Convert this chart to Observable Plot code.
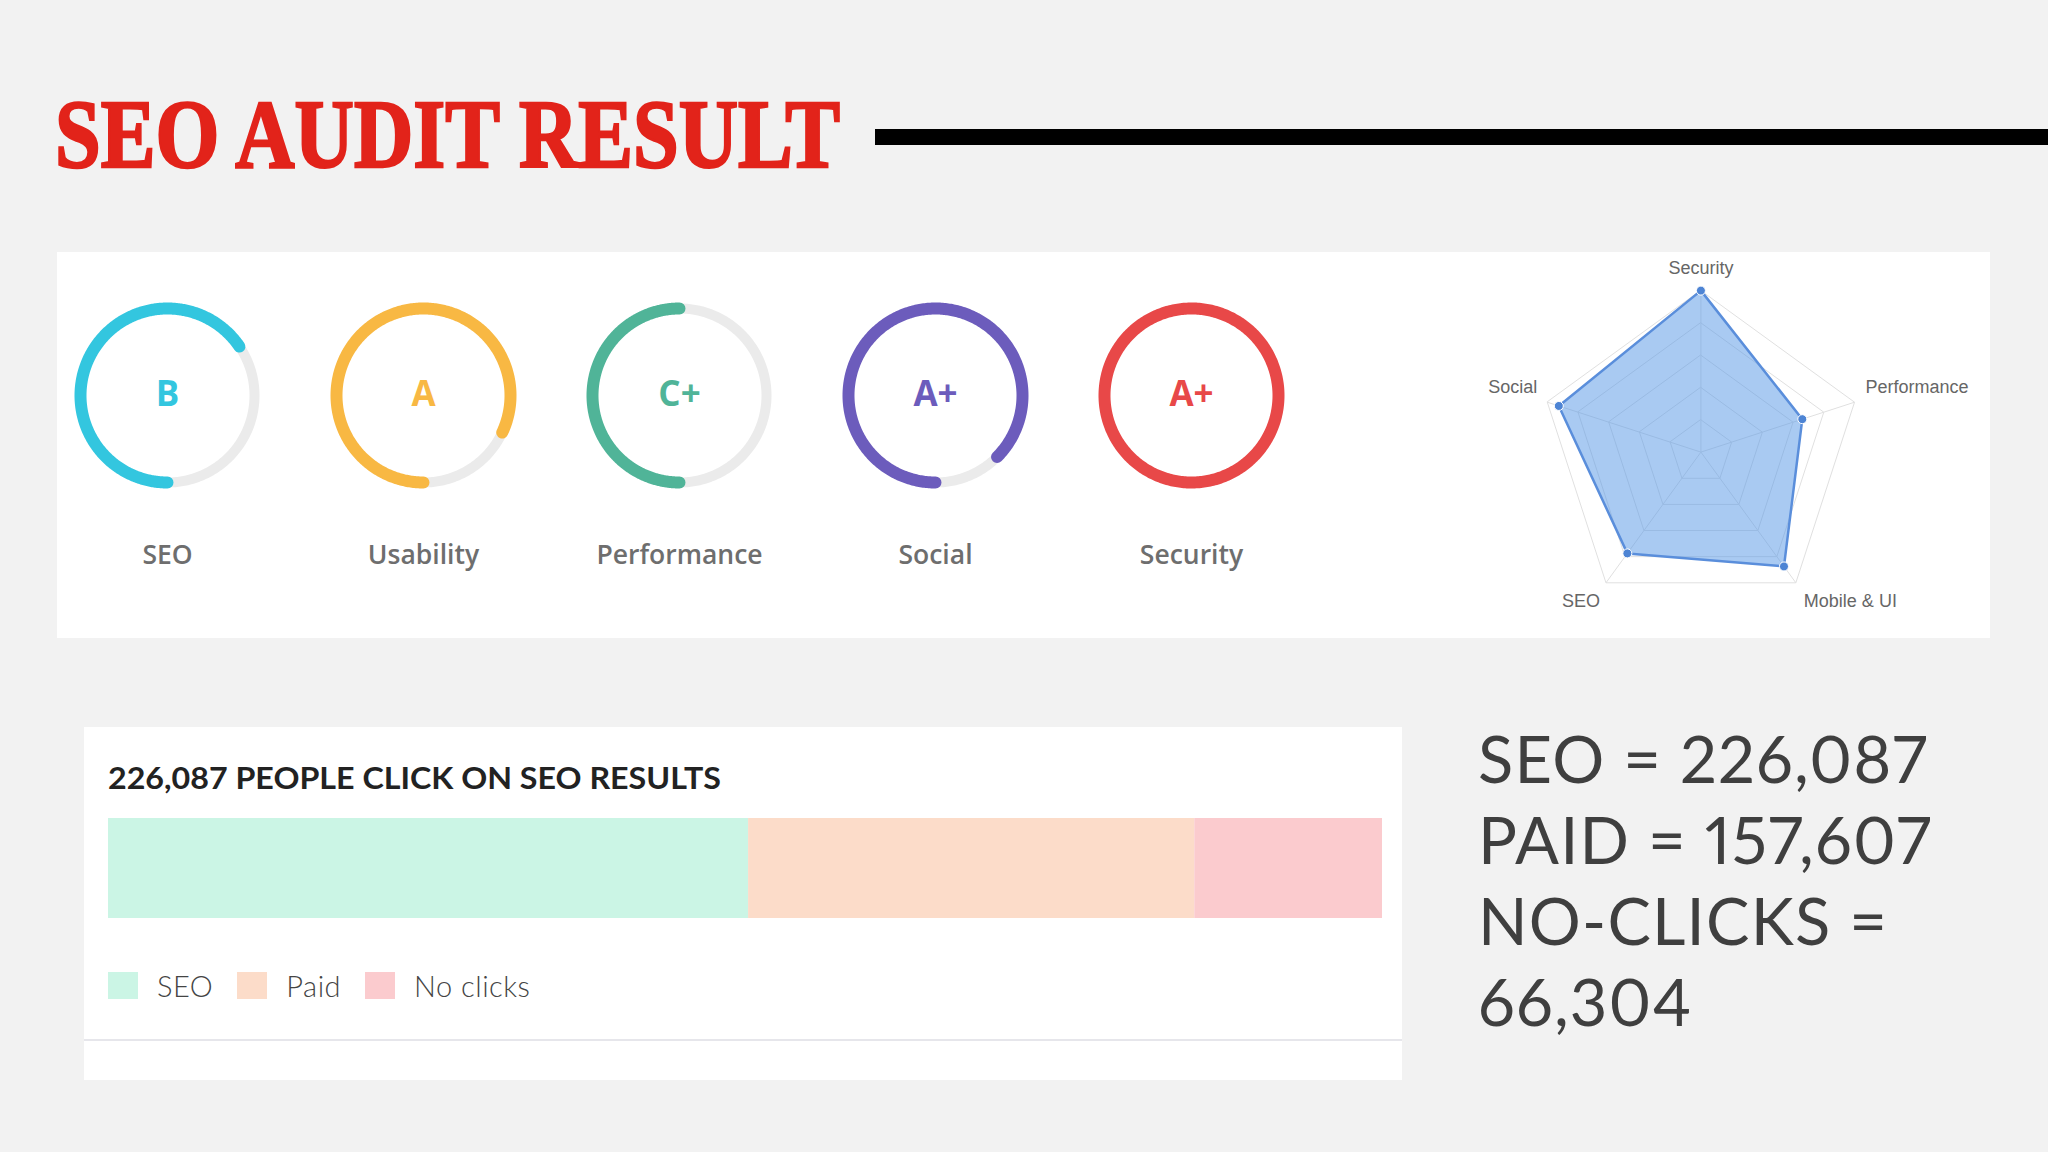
<!DOCTYPE html>
<html><head><meta charset="utf-8">
<script src="https://cdn.jsdelivr.net/npm/d3@7"></script>
<script src="https://cdn.jsdelivr.net/npm/@observablehq/plot@0.6"></script>
<style>
html,body{margin:0;padding:0;}
body{width:2048px;height:1152px;background:#f2f2f2;position:relative;overflow:hidden;font-family:Lato,sans-serif;}
.abs{position:absolute;}
#title{left:55px;top:85px;font-family:"Liberation Serif",serif;font-weight:700;font-size:98px;line-height:98px;color:#e2231a;white-space:nowrap;transform-origin:0 0;-webkit-text-stroke:2.5px #e2231a;}
#rule{left:875px;top:129px;width:1173px;height:16px;background:#000;}
.panel{background:#fff;}
#p1{left:57px;top:252px;width:1933px;height:386px;}
#p2{left:84px;top:727px;width:1318px;height:353px;}
#divider{left:84px;top:1039px;width:1318px;height:2px;background:#e6e6eb;}
#gauges{left:39px;top:252px;}
#radar{left:1400px;top:252px;}
#barTitle{left:108px;top:762px;font-family:Lato,sans-serif;font-weight:700;font-size:30.5px;line-height:30.5px;color:#222;white-space:nowrap;transform-origin:0 0;}
#bar{left:108px;top:818px;}
#legend{left:108px;top:968px;}
#stats{left:1478px;top:718px;width:560px;font-family:Lato,sans-serif;font-size:65px;line-height:81px;letter-spacing:1.2px;font-variant-numeric:proportional-nums;color:#3f3f3f;}
.lg-swatches{font-family:Lato,sans-serif !important;font-size:29px !important;letter-spacing:0.5px;font-weight:300;color:#444;margin:0 !important;}
.lg-swatch{margin-right:24px !important;}
.lg-swatch > svg{margin-right:19px !important;}
</style></head><body>
<div id="title" class="abs">SEO AUDIT RESULT</div>
<div id="rule" class="abs"></div>
<div id="p1" class="abs panel"></div>
<div id="p2" class="abs panel"></div>
<div id="divider" class="abs"></div>
<div id="gauges" class="abs"></div>
<div id="radar" class="abs"></div>
<div id="barTitle" class="abs"></div>
<div id="bar" class="abs"></div>
<div id="legend" class="abs"></div>
<div id="stats" class="abs"></div>
<script>
// ---- Gauge scores ----
const gaugeNames = ["SEO", "Usability", "Performance", "Social", "Security"];
const gaugeGrades = ["B", "A", "C+", "A+", "A+"];
const gaugeScores = [0.655, 0.82, 0.5, 0.875, 1.0];
const gaugeColors = ["#33c6df", "#f8b843", "#50b498", "#6c5cbc", "#e84848"];

// ---- Radar ----
const radarAxes = ["Security", "Performance", "Mobile & UI", "SEO", "Social"];
const radarValues = [1.0, 0.66, 0.875, 0.775, 0.925];
const radarLevels = [0.2, 0.4, 0.6, 0.8, 1.0];

// ---- Clicks ----
const clickCategories = ["SEO", "Paid", "No clicks"];
const clickLabels = ["SEO", "PAID", "NO-CLICKS"];
const clickValues = [226087, 157607, 66304];
const clickColors = ["#cbf5e5", "#fcdcc9", "#fbcbce"];

const fmt = d3.format(",");
const baseStyle = {background: "transparent", maxWidth: "none", overflow: "visible"};

// Title fitting
function fitWidth(el, target) {
  const w = el.getBoundingClientRect().width;
  el.style.transform = `scaleX(${target / w})`;
}
fitWidth(document.getElementById("title"), 785);

// ---- Gauges ----
const R = 87, STEPS = 360;
const arcPts = (name, frac) => d3.range(STEPS + 1).map(k => {
  const t = 2 * Math.PI * frac * k / STEPS;
  return {name, x: -R * Math.sin(t), y: -R * Math.cos(t)};
});
const track = gaugeNames.flatMap(n => arcPts(n, 1));
const arcs = gaugeNames.flatMap((n, i) => arcPts(n, gaugeScores[i]));
const gaugeRows = gaugeNames.map((n, i) => ({name: n, grade: gaugeGrades[i]}));

const gauges = Plot.plot({
  width: 1280, height: 386, margin: 0,
  style: baseStyle,
  fx: {domain: gaugeNames, padding: 0, axis: null},
  x: {domain: [-128, 128], axis: null},
  y: {domain: [-243, 143], axis: null},
  color: {domain: gaugeNames, range: gaugeColors},
  marks: [
    Plot.line(track, {fx: "name", x: "x", y: "y", stroke: "#ebebeb", strokeWidth: 10}),
    Plot.line(arcs, {fx: "name", x: "x", y: "y", stroke: "name", strokeWidth: 12, strokeLinecap: "round"}),
    Plot.text(gaugeRows, {fx: "name", x: () => 0, y: () => 1, text: "grade", fill: "name", fontSize: 35, fontWeight: 700, fontFamily: "Open Sans"}),
    Plot.text(gaugeRows, {fx: "name", x: () => 0, y: () => -160, text: "name", fill: "#6e6e6e", fontSize: 26.5, fontWeight: 600, fontFamily: "Open Sans", letterSpacing: "0.6px"})
  ]
});
document.getElementById("gauges").append(gauges);

// ---- Radar ----
const ang = i => i * 2 * Math.PI / radarAxes.length;
const polar = (i, v) => ({x: v * Math.sin(ang(i)), y: v * Math.cos(ang(i))});
const rings = radarLevels.flatMap(l => radarAxes.map((a, i) => ({level: l, ...polar(i, l)})));
const spokes = radarAxes.map((a, i) => ({axis: a, ...polar(i, 1)}));
const pts = radarAxes.map((a, i) => ({axis: a, value: radarValues[i], ...polar(i, radarValues[i])}));
const labelPlace = {
  "Security": {dx: 0, dy: -22, textAnchor: "middle"},
  "Performance": {dx: 11, dy: -15, textAnchor: "start"},
  "Mobile & UI": {dx: 8, dy: 18, textAnchor: "start"},
  "SEO": {dx: -6, dy: 18, textAnchor: "end"},
  "Social": {dx: -10, dy: -15, textAnchor: "end"}
};
const radar = Plot.plot({
  width: 590, height: 386, margin: 0,
  style: baseStyle,
  x: {domain: [-1.86, 1.793], axis: null},
  y: {domain: [-1.154, 1.236], axis: null},
  marks: [
    Plot.line(rings, {x: "x", y: "y", z: "level", curve: "linear-closed", stroke: "#e0e0e0", strokeWidth: 1}),
    Plot.link(spokes, {x1: () => 0, y1: () => 0, x2: "x", y2: "y", stroke: "#e0e0e0", strokeWidth: 1}),
    Plot.line(pts, {x: "x", y: "y", curve: "linear-closed", fill: "#5496e6", fillOpacity: 0.5, stroke: "#5a8edb", strokeWidth: 2.5}),
    Plot.dot(pts, {x: "x", y: "y", r: 4.5, fill: "#4d84d4", stroke: "#ffffff", strokeWidth: 1}),
    ...spokes.map(s => Plot.text([s], {x: "x", y: "y", text: "axis", ...labelPlace[s.axis], fontSize: 18, fill: "#666", fontFamily: "Liberation Sans"}))
  ]
});
document.getElementById("radar").append(radar);

// ---- Clicks bar ----
document.getElementById("barTitle").textContent = `${fmt(clickValues[0])} PEOPLE CLICK ON SEO RESULTS`;
fitWidth(document.getElementById("barTitle"), 613);
const clicks = clickCategories.map((c, i) => ({category: c, value: clickValues[i]}));
const bar = Plot.plot({
  width: 1274, height: 100, margin: 0,
  style: baseStyle,
  x: {axis: null},
  color: {domain: clickCategories, range: clickColors},
  marks: [Plot.barX(clicks, {x: "value", fill: "category"})]
});
document.getElementById("bar").append(bar);
document.getElementById("legend").append(bar.legend("color", {swatchWidth: 30, swatchHeight: 27, className: "lg"}));

// ---- Stats text ----
document.getElementById("stats").innerHTML = clickLabels.map((l, i) => `${l} = ${fmt(clickValues[i])}`).join("<br>");
</script>
</body></html>
